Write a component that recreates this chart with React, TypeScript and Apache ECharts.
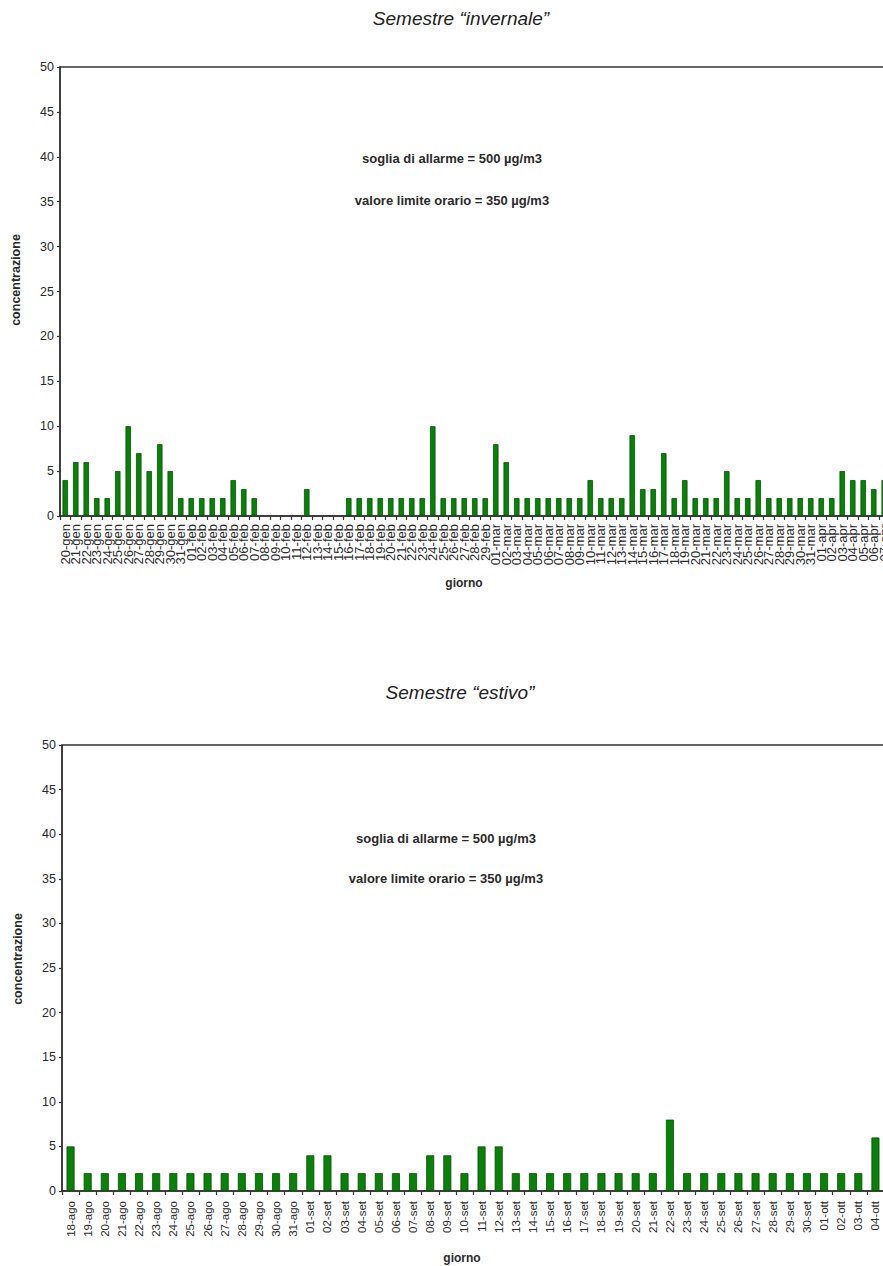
import React, { useEffect, useRef } from "react";
import * as echarts from "echarts";

// ---- Data: winter semester ----
const winterDays = [
  "20-gen","21-gen","22-gen","23-gen","24-gen","25-gen","26-gen","27-gen","28-gen","29-gen","30-gen","31-gen",
  "01-feb","02-feb","03-feb","04-feb","05-feb","06-feb","07-feb","08-feb","09-feb","10-feb","11-feb","12-feb","13-feb","14-feb","15-feb",
  "16-feb","17-feb","18-feb","19-feb","20-feb","21-feb","22-feb","23-feb","24-feb","25-feb","26-feb","27-feb","28-feb","29-feb",
  "01-mar","02-mar","03-mar","04-mar","05-mar","06-mar","07-mar","08-mar","09-mar","10-mar","11-mar","12-mar","13-mar","14-mar","15-mar",
  "16-mar","17-mar","18-mar","19-mar","20-mar","21-mar","22-mar","23-mar","24-mar","25-mar","26-mar","27-mar","28-mar","29-mar","30-mar","31-mar",
  "01-apr","02-apr","03-apr","04-apr","05-apr","06-apr","07-apr",
];
const winterValues: (number | null)[] = [
  4, 6, 6, 2, 2, 5, 10, 7, 5, 8, 5, 2,
  2, 2, 2, 2, 4, 3, 2, null, null, null, null, 3, null, null, null,
  2, 2, 2, 2, 2, 2, 2, 2, 10, 2, 2, 2, 2, 2,
  8, 6, 2, 2, 2, 2, 2, 2, 2, 4, 2, 2, 2, 9, 3,
  3, 7, 2, 4, 2, 2, 2, 5, 2, 2, 4, 2, 2, 2, 2, 2,
  2, 2, 5, 4, 4, 3, 4,
];

// ---- Data: summer semester ----
const summerDays = [
  "18-ago","19-ago","20-ago","21-ago","22-ago","23-ago","24-ago","25-ago","26-ago","27-ago","28-ago","29-ago","30-ago","31-ago",
  "01-set","02-set","03-set","04-set","05-set","06-set","07-set","08-set","09-set","10-set","11-set","12-set","13-set","14-set","15-set",
  "16-set","17-set","18-set","19-set","20-set","21-set","22-set","23-set","24-set","25-set","26-set","27-set","28-set","29-set","30-set",
  "01-ott","02-ott","03-ott","04-ott",
];
const summerValues: number[] = [
  5, 2, 2, 2, 2, 2, 2, 2, 2, 2, 2, 2, 2, 2,
  4, 4, 2, 2, 2, 2, 2, 4, 4, 2, 5, 5, 2, 2, 2,
  2, 2, 2, 2, 2, 2, 8, 2, 2, 2, 2, 2, 2, 2, 2,
  2, 2, 2, 6,
];

const yTicks = { min: 0, max: 50, interval: 5 };
const titles = ["Semestre \u201cinvernale\u201d", "Semestre \u201cestivo\u201d"];
const notes = ["soglia di allarme = 500 \u00b5g/m3", "valore limite orario = 350 \u00b5g/m3"];
const yName = "concentrazione";
const xName = "giorno";

const FONT = "'Liberation Sans', Arial, Helvetica, sans-serif";
const TXT = "#2a2a2a";
const AX = "#333";

function xAxisCfg(gridIndex: number, data: string[], fontSize: number, margin: number) {
  return {
    type: "category",
    gridIndex,
    data,
    axisLine: { show: true, lineStyle: { color: AX, width: 1.5 } },
    axisTick: { show: true, interval: 0, length: 4, lineStyle: { color: AX, width: 1.2 } },
    axisLabel: {
      interval: 0,
      rotate: 90,
      fontSize,
      fontFamily: FONT,
      color: TXT,
      margin,
      hideOverlap: false,
    },
    splitLine: { show: false },
  };
}

function yAxisCfg(gridIndex: number) {
  return {
    type: "value",
    gridIndex,
    min: yTicks.min,
    max: yTicks.max,
    interval: yTicks.interval,
    axisLine: { show: true, lineStyle: { color: AX, width: 1.5 } },
    axisTick: { show: true, length: 3, lineStyle: { color: AX, width: 1.2 } },
    axisLabel: { fontSize: 12.5, fontFamily: FONT, color: TXT, margin: 6 },
    splitLine: { show: false },
  };
}

function barSeries(idx: number, data: (number | null)[], barWidth: number) {
  return {
    type: "bar",
    xAxisIndex: idx,
    yAxisIndex: idx,
    data,
    barWidth,
    itemStyle: { color: "#0a7f0a", borderColor: "#065206", borderWidth: 0.8 },
  };
}

function txt(x: number, y: number, text: string, size: number, extra: any = {}) {
  return {
    type: "text",
    x,
    y,
    rotation: extra.rotation || 0,
    style: {
      text,
      fontSize: size,
      fontFamily: FONT,
      fontWeight: extra.bold ? "bold" : "normal",
      fontStyle: extra.italic ? "italic" : "normal",
      fill: extra.fill || TXT,
      align: "center",
      verticalAlign: "middle",
    },
  };
}

export default function App() {
  const ref = useRef<HTMLDivElement>(null);
  useEffect(() => {
    if (!ref.current) return;
    const chart = echarts.init(ref.current, null, { renderer: "svg" });
    chart.setOption({
      animation: false,
      backgroundColor: "#ffffff",
      grid: [
        { left: 60, top: 67, width: 829.5, height: 449, show: true, borderColor: AX, borderWidth: 1.5, backgroundColor: "transparent" },
        { left: 62, top: 745, width: 822, height: 446, show: true, borderColor: AX, borderWidth: 1.5, backgroundColor: "transparent" },
      ],
      xAxis: [xAxisCfg(0, winterDays, 13, 8), xAxisCfg(1, summerDays, 11.5, 10)],
      yAxis: [yAxisCfg(0), yAxisCfg(1)],
      series: [barSeries(0, winterValues, 5.5), barSeries(1, summerValues, 8)],
      graphic: [
        txt(461, 18, titles[0], 19, { italic: true, fill: "#222" }),
        txt(460, 692, titles[1], 19, { italic: true, fill: "#222" }),
        txt(452, 158, notes[0], 13, { bold: true }),
        txt(452, 200, notes[1], 13, { bold: true }),
        txt(446, 838, notes[0], 13, { bold: true }),
        txt(446, 878, notes[1], 13, { bold: true }),
        txt(16, 280, yName, 12.5, { bold: true, rotation: Math.PI / 2 }),
        txt(18, 959, yName, 12.5, { bold: true, rotation: Math.PI / 2 }),
        txt(464, 583, xName, 12, { bold: true }),
        txt(462, 1258, xName, 12, { bold: true }),
      ],
    });
    return () => chart.dispose();
  }, []);
  return (
    <div style={{ position: "absolute", left: 0, top: 0, width: 883, height: 1266, overflow: "hidden", background: "#fff" }}>
      <div ref={ref} style={{ width: 910, height: 1266 }} />
    </div>
  );
}
